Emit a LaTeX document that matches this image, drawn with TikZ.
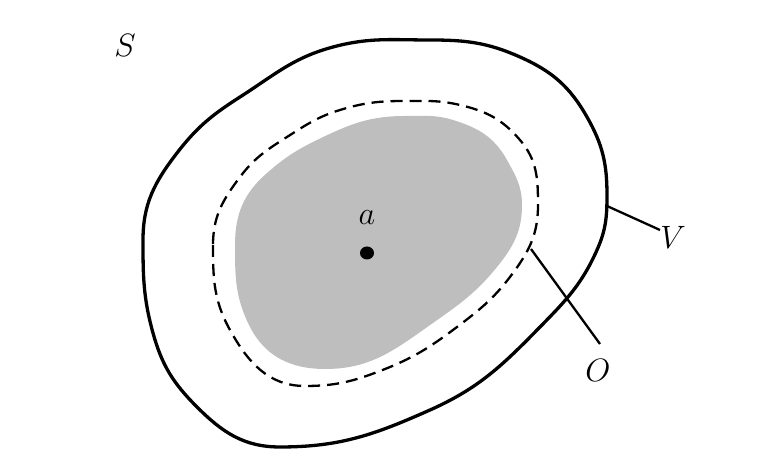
\documentclass[tikz,border=0pt]{standalone}
\definecolor{fillgray}{RGB}{190,190,190}
\tikzset{
  outerline/.style={line width=3.3pt, line join=round},
  dashline/.style={line width=2.3pt, dash pattern=on 12pt off 7pt},
  leader/.style={line width=2.3pt},
  lbl/.style={font=\Huge, scale=1.3, inner sep=0pt}
}
\begin{document}
\begin{tikzpicture}[x=1pt,y=1pt]
\useasboundingbox (0,0) rectangle (764,462);
% gray region
\fill[fillgray] (235,217) to[out=270,in=117] (250,135)
  to[out=297,in=180] (325,93) to[out=0,in=215.4] (423,132)
  to[out=35.4,in=231] (497,195) to[out=51,in=270] (522,257)
  to[out=90,in=299] (507,302) to[out=119,in=343] (453,342)
  to[out=163,in=0] (405,346) to[out=180,in=26] (317,322)
  to[out=206,in=41] (267,289) to[out=221,in=90] (235,217) -- cycle;
% dashed boundary
\draw[dashline] (213,217) to[out=270,in=119] (230,132)
  to[out=299,in=180] (305,76) to[out=0,in=201] (380,91)
  to[out=21,in=217] (457,135) to[out=37,in=233.5] (513,189)
  to[out=53.5,in=270] (538,257) to[out=90,in=310.6] (520,322)
  to[out=130.6,in=346.8] (460,357) to[out=166.8,in=0] (405,361)
  to[out=180,in=17] (340,352) to[out=197,in=32.5] (287,325)
  to[out=212.5,in=53] (240,285) to[out=233,in=90] (213,217) -- cycle;
% outer solid
\draw[outerline] (143,222) to[out=270,in=105.5] (153,129)
  to[out=285.5,in=135] (197,55) to[out=315,in=180] (280,15)
  to[out=0,in=204] (430,52) to[out=24,in=225.6] (540,135)
  to[out=45.6,in=246] (597,212) to[out=66,in=270] (607,267)
  to[out=90,in=299.6] (587,345) to[out=119.6,in=336] (520,405)
  to[out=156,in=0] (430,422) to[out=180,in=15] (333,415)
  to[out=195,in=32.6] (240,365) to[out=212.6,in=52.4] (177,309)
  to[out=232.4,in=90] (143,222) -- cycle;
% point a
\fill (367,209) ellipse [x radius=7pt, y radius=6.5pt];
\node[lbl] (la) at (367,244) {$a$};
\node[lbl] (lS) at (125,417) {$S$};
\node[lbl] (lV) at (673,225) {$V$};
\node[lbl] (lO) at (598,92) {$O$};
\coordinate (vstart) at (607,256);
\coordinate (vend) at (660,232);
\coordinate (ostart) at (531,213);
\coordinate (oend) at (600,118);
\draw[leader] (vstart) -- (vend);
\draw[leader] (ostart) -- (oend);
\end{tikzpicture}
\end{document}
